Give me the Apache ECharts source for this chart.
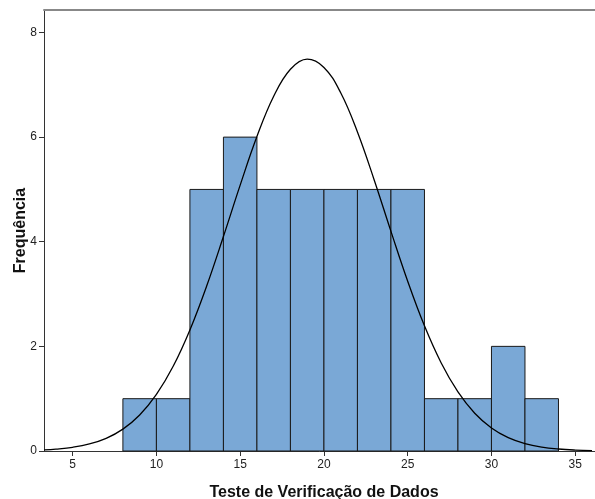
<!DOCTYPE html>
<html>
<head>
<meta charset="utf-8">
<script src="https://cdn.jsdelivr.net/npm/echarts@6/dist/echarts.min.js"></script>
<style>
html, body { margin: 0; padding: 0; background: #fff; }
#main { width: 595px; height: 499px; }
</style>
</head>
<body>
<div id="main"></div>
<script>
// histogram bins: [from, to] and counts
var binStart = [8, 10, 12, 14, 16, 18, 20, 22, 24, 26, 28, 30, 32];
var binEnd = [10, 12, 14, 16, 18, 20, 22, 24, 26, 28, 30, 32, 34];
var counts = [1, 1, 5, 6, 5, 5, 5, 5, 5, 1, 1, 2, 1];

// normal curve
var curveX = [3.3, 4, 5, 6, 7, 8, 9, 10, 11, 12, 13, 14, 15, 16, 17, 18, 19, 20,
  21, 22, 23, 24, 25, 26, 27, 28, 29, 30, 31, 32, 33, 34, 35, 36];
var curveY = [0.021, 0.036, 0.071, 0.134, 0.242, 0.418, 0.688, 1.082, 1.62, 2.315,
  3.154, 4.1, 5.083, 6.012, 6.782, 7.297, 7.49, 7.332, 6.847, 6.098, 5.181, 4.198,
  3.245, 2.392, 1.682, 1.129, 0.722, 0.441, 0.256, 0.142, 0.075, 0.038, 0.018, 0.008];

var xTicks = [5, 10, 15, 20, 25, 30, 35];
var yTicks = [0, 2, 4, 6, 8];

var bars = [];
for (var i = 0; i < counts.length; i++) {
  bars.push([binStart[i], binEnd[i], counts[i]]);
}
var curve = [];
for (var j = 0; j < curveX.length; j++) {
  curve.push([curveX[j], curveY[j]]);
}

var chart = echarts.init(document.getElementById('main'));
chart.setOption({
  animation: false,
  grid: { left: 44, top: 10, right: 0, bottom: 48, outerBoundsMode: 'none', containLabel: false },
  xAxis: [{
    type: 'value',
    min: 3.29,
    max: 36.18,
    name: 'Teste de Verificação de Dados',
    nameLocation: 'middle',
    nameGap: 34,
    nameMoveOverlap: false,
    nameTextStyle: {
      fontFamily: 'Liberation Sans', fontWeight: 'bold', fontSize: 16,
      color: '#111', padding: [0, 0, 0, 9]
    },
    splitLine: { show: false },
    axisLine: { onZero: false, lineStyle: { color: '#333', width: 1 } },
    axisTick: { show: true, length: 5, customValues: xTicks, lineStyle: { color: '#333' } },
    axisLabel: {
      customValues: xTicks, margin: 8,
      fontFamily: 'Liberation Sans', fontSize: 12, color: '#222'
    }
  }, {
    type: 'value',
    position: 'top',
    min: 3.29,
    max: 36.18,
    splitLine: { show: false },
    axisLine: { show: true, onZero: false, lineStyle: { color: '#888', width: 2 } },
    axisTick: { show: false },
    axisLabel: { show: false }
  }],
  yAxis: {
    type: 'value',
    min: 0,
    max: 8.43,
    name: 'Frequência',
    nameLocation: 'middle',
    nameGap: 15,
    nameMoveOverlap: false,
    nameTextStyle: {
      fontFamily: 'Liberation Sans', fontWeight: 'bold', fontSize: 16, color: '#111'
    },
    splitLine: { show: false },
    axisLine: { show: true, onZero: false, lineStyle: { color: '#333', width: 1 } },
    axisTick: { show: true, length: 5, customValues: yTicks, lineStyle: { color: '#333' } },
    axisLabel: {
      customValues: yTicks, margin: 7,
      fontFamily: 'Liberation Sans', fontSize: 12, color: '#222'
    }
  },
  series: [{
    type: 'custom',
    data: bars,
    encode: { x: [0, 1], y: 2 },
    renderItem: function (params, api) {
      var p0 = api.coord([api.value(0), 0]);
      var p1 = api.coord([api.value(1), api.value(2)]);
      return {
        type: 'rect',
        shape: { x: p0[0], y: p1[1], width: p1[0] - p0[0], height: p0[1] - p1[1] },
        style: { fill: '#7aa8d6', stroke: '#1a1a1a', lineWidth: 1 }
      };
    },
    z: 2
  }, {
    type: 'line',
    data: curve,
    smooth: 0.4,
    showSymbol: false,
    lineStyle: { color: '#000', width: 1.3 },
    z: 3
  }]
});
</script>
</body>
</html>
